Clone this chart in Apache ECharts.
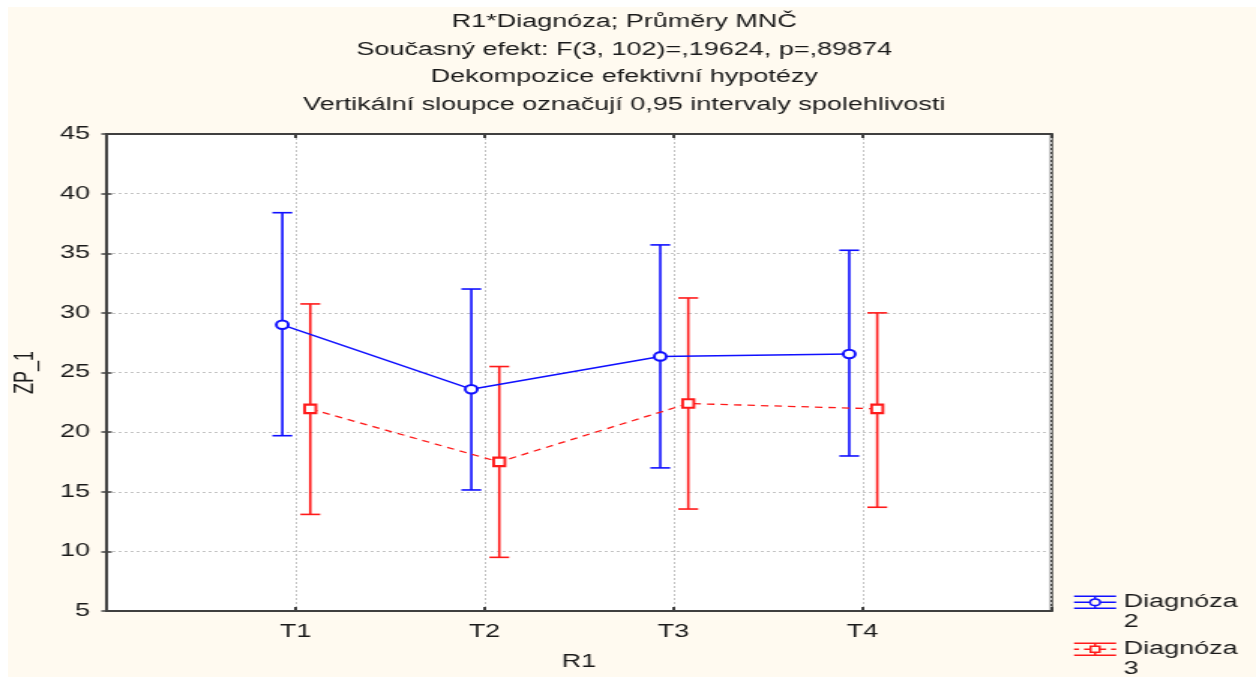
<!DOCTYPE html>
<html>
<head>
<meta charset="utf-8">
<script src="https://cdn.jsdelivr.net/npm/echarts@6/dist/echarts.min.js"></script>
<style>
  html, body { margin: 0; padding: 0; background: #fff; }
  .paper { position: absolute; left: 8px; top: 7px; width: 1248px; height: 670px; background: #fffaf0; }
  /* original picture is stretched horizontally, so the chart is drawn narrow and widened */
  .chart { position: absolute; left: 0; top: 0; width: 837px; height: 677px; transform: scaleX(1.5006); transform-origin: 0 0; }
</style>
</head>
<body>
<div class="paper"></div>
<div id="chart" class="chart"></div>
<script>
const categories = ['T1', 'T2', 'T3', 'T4']
const titleLines = [
  'R1*Diagnóza; Průměry MNČ',
  'Současný efekt: F(3, 102)=,19624, p=,89874',
  'Dekompozice efektivní hypotézy',
  'Vertikální sloupce označují 0,95 intervaly spolehlivosti'
]
// Diagnóza 2
const blueMean = [29.0, 23.6, 26.35, 26.55]
const blueLow = [19.7, 15.15, 17.0, 18.0]
const blueHigh = [38.4, 32.0, 35.7, 35.25]
// Diagnóza 3
const redMean = [21.95, 17.5, 22.4, 21.95]
const redLow = [13.1, 9.5, 13.55, 13.7]
const redHigh = [30.75, 25.5, 31.25, 30.0]

const font = 'Arial, "Liberation Sans", sans-serif'
const blue = '#1010ff'
const red = '#ff1a1a'
const ink = '#1a1a1a'
const frame = '#404040'
// small side offsets of the two groups around each category
const blueShift = -0.07
const redShift = 0.078

const toPoints = (vals, shift) => vals.map((v, i) => [i + 1 + shift, v])
const toBars = (lo, hi, shift) => lo.map((v, i) => [i + 1 + shift, v, hi[i]])

function errorBar(color) {
  return function (params, api) {
    const x = api.value(0)
    const top = api.coord([x, api.value(2)])
    const bot = api.coord([x, api.value(1)])
    const half = 6.6
    const style = { stroke: color, lineWidth: 1.6 }
    return {
      type: 'group',
      children: [
        { type: 'line', shape: { x1: top[0], y1: top[1], x2: bot[0], y2: bot[1] }, style },
        { type: 'line', shape: { x1: top[0] - half, y1: top[1], x2: top[0] + half, y2: top[1] }, style },
        { type: 'line', shape: { x1: bot[0] - half, y1: bot[1], x2: bot[0] + half, y2: bot[1] }, style }
      ]
    }
  }
}

// one legend per series, text gets an empty first line so "Diagnóza" sits level with the icon
function legendFor(name, top, icon, color) {
  return {
    orient: 'vertical',
    left: 715,
    top: top,
    padding: 0,
    itemWidth: 28,
    itemHeight: 18,
    formatter: n => '\n' + n.replace(' ', '\n'),
    textStyle: { fontFamily: font, fontSize: 18, lineHeight: 19.5, color: ink },
    data: [{ name, icon, itemStyle: { color: 'transparent', borderColor: color, borderWidth: 1.5 } }]
  }
}

const xBase = {
  type: 'value',
  min: 0,
  max: 5,
  interval: 1,
  axisLine: { show: true, lineStyle: { color: frame, width: 2 } },
  axisTick: { show: true, inside: true, length: 4, lineStyle: { color: frame, width: 2 } }
}
const yBase = {
  type: 'value',
  min: 5,
  max: 45,
  interval: 5,
  axisLine: { show: true, lineStyle: { color: frame, width: 2 } },
  axisTick: { show: true, inside: true, length: 3.5, lineStyle: { color: frame, width: 1.5 } }
}
const dotted = { show: true, lineStyle: { color: '#c4c4c4', type: [2, 2], width: 1 } }

const option = {
  animation: false,
  backgroundColor: 'transparent',
  title: {
    text: titleLines.join('\n'),
    left: 416,
    top: 8,
    padding: 0,
    textAlign: 'center',
    textStyle: { fontFamily: font, fontSize: 18, fontWeight: 'normal', color: ink, lineHeight: 27.7 }
  },
  grid: {
    left: 70.6,
    right: 136.3,
    top: 134,
    bottom: 66,
    show: true,
    backgroundColor: '#ffffff',
    borderColor: frame,
    borderWidth: 2
  },
  legend: [
    legendFor('Diagnóza 2', 573, 'path://M0,0H42M0,18H42M0,9H16M26,9H42M21,0V4M21,14V18M16,9A5,5 0 1 1 26,9A5,5 0 1 1 16,9', blue),
    legendFor('Diagnóza 3', 620, 'path://M0,0H42M0,18H42M0,9H5M10,9H16M26,9H32M37,9H42M21,0V4.5M21,13.5V18M16.5,4.5H25.5V13.5H16.5Z', red)
  ],
  xAxis: [
    Object.assign({}, xBase, {
      position: 'bottom',
      splitLine: dotted,
      axisLabel: {
        fontFamily: font, fontSize: 18, color: ink, margin: 12,
        formatter: v => categories[v - 1] || ''
      },
      name: 'R1',
      nameLocation: 'middle',
      nameGap: 42,
      nameTextStyle: { fontFamily: font, fontSize: 18, color: ink }
    }),
    Object.assign({}, xBase, { position: 'top', splitLine: { show: false }, axisLabel: { show: false } })
  ],
  yAxis: [
    Object.assign({}, yBase, {
      position: 'left',
      splitLine: dotted,
      axisLabel: { fontFamily: font, fontSize: 18, color: ink, margin: 11 },
      name: 'ZP_1',
      nameLocation: 'middle',
      nameGap: 45,
      nameRotate: 90,
      nameTextStyle: { fontFamily: font, fontSize: 18, color: ink }
    }),
    Object.assign({}, yBase, { position: 'right', splitLine: { show: false }, axisLabel: { show: false } })
  ],
  series: [
    {
      name: 'bars2',
      type: 'custom',
      renderItem: errorBar(blue),
      data: toBars(blueLow, blueHigh, blueShift),
      encode: { x: 0, y: [1, 2] },
      z: 2
    },
    {
      name: 'bars3',
      type: 'custom',
      renderItem: errorBar(red),
      data: toBars(redLow, redHigh, redShift),
      encode: { x: 0, y: [1, 2] },
      z: 2
    },
    {
      name: 'Diagnóza 2',
      type: 'line',
      data: toPoints(blueMean, blueShift),
      symbol: 'emptyCircle',
      symbolSize: [8, 8.5],
      lineStyle: { color: blue, width: 1.5 },
      itemStyle: { color: blue, borderWidth: 1.6 },
      z: 3
    },
    {
      name: 'Diagnóza 3',
      type: 'line',
      data: toPoints(redMean, redShift),
      symbol: 'emptyRect',
      symbolSize: [7.5, 8.5],
      lineStyle: { color: red, width: 1.3, type: [5, 4] },
      itemStyle: { color: red, borderWidth: 1.6 },
      z: 3
    }
  ]
}

const chart = echarts.init(document.getElementById('chart'))
chart.setOption(option)
</script>
</body>
</html>
